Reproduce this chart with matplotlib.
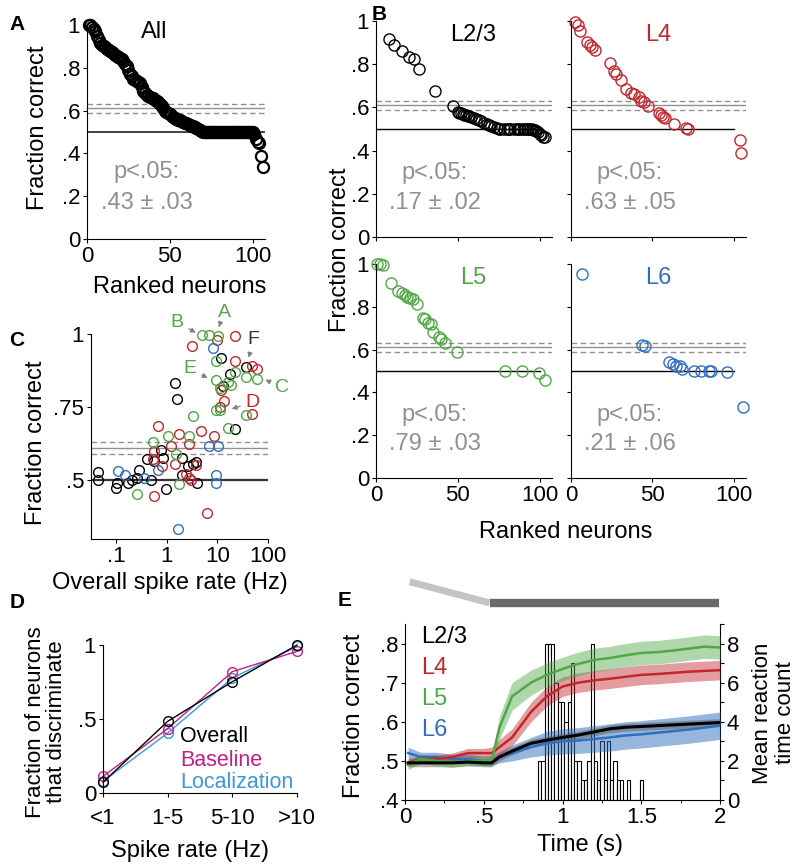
import numpy as np
import matplotlib
matplotlib.use("Agg")
import matplotlib.pyplot as plt

plt.rcParams['font.family'] = ['Liberation Sans', 'DejaVu Sans']

W, H = 797, 864
c23, c4, c5, c6 = 'black', '#c1272d', '#4fa845', '#2f6fbf'
gray = '#909090'

# ---- data ----
# A: all neurons, ranked
a_frac = ([1.0, 1.0, 0.99, 0.98, 0.97, 0.95, 0.93, 0.915, 0.905, 0.90, 0.895, 0.89,
           0.885, 0.88, 0.875, 0.868, 0.86, 0.855, 0.85, 0.845, 0.84, 0.83, 0.82, 0.81,
           0.79, 0.77, 0.76, 0.75, 0.745, 0.74, 0.735, 0.727, 0.71, 0.69, 0.68, 0.675,
           0.67, 0.665, 0.66, 0.657, 0.65, 0.645, 0.64, 0.63, 0.62, 0.61, 0.60, 0.595,
           0.59, 0.585, 0.578, 0.571, 0.567, 0.563, 0.558, 0.555, 0.552, 0.548, 0.544,
           0.54, 0.537, 0.533, 0.53, 0.526, 0.522, 0.518, 0.514, 0.51, 0.505, 0.502]
          + [0.5] * 30
          + [0.49, 0.465, 0.455, 0.45, 0.39, 0.335])

# B: per layer (rank in overall list, fraction correct)
b23_rank = [8, 11, 16, 20, 23, 26, 36, 47, 50, 51, 52, 53, 54, 55, 56, 57, 58,
            60, 61, 63, 64, 66, 68, 69, 70, 72, 74, 75, 76, 78, 80, 81, 82, 84, 86,
            87, 88, 90, 91, 92, 93, 94, 95, 96, 97, 98, 99, 100, 101, 102, 103]
b23_frac = [0.917, 0.889, 0.861, 0.835, 0.824, 0.776, 0.677, 0.606, 0.578, 0.575,
            0.572, 0.57, 0.567, 0.565, 0.562, 0.56, 0.556, 0.55, 0.547, 0.54, 0.537,
            0.53, 0.522, 0.518, 0.515, 0.508, 0.503, 0.5, 0.5, 0.5, 0.5, 0.5, 0.5,
            0.5, 0.5, 0.5, 0.5, 0.5, 0.5, 0.5, 0.5, 0.5, 0.5, 0.497, 0.495, 0.49,
            0.485, 0.478, 0.47, 0.465, 0.465]
b4_rank = [2.5, 4.5, 5.5, 9.6, 11.6, 12.6, 14.6, 23.8, 26.2, 27.8, 30.9, 33.9, 37,
           39, 41.7, 43, 45, 47.2, 53.9, 55, 56.5, 57.5, 63.4, 70.5, 72, 104, 104.7]
b4_frac = [0.997, 0.98, 0.955, 0.904, 0.889, 0.881, 0.866, 0.807, 0.77, 0.755, 0.727,
           0.684, 0.665, 0.66, 0.65, 0.63, 0.625, 0.606, 0.573, 0.565, 0.556, 0.55,
           0.523, 0.503, 0.50, 0.449, 0.39]
b5_rank = [0.4, 2.4, 4.5, 8.9, 13.6, 15.7, 17.7, 18.7, 20.7, 22.4, 24.8, 28.5, 29.9,
           31.9, 33.3, 34.9, 38.6, 40, 42, 49.2, 79, 89.2, 99.4, 103.3]
b5_frac = [1.0, 1.0, 0.995, 0.91, 0.876, 0.863, 0.855, 0.848, 0.84, 0.835, 0.812,
           0.747, 0.742, 0.726, 0.72, 0.684, 0.658, 0.648, 0.63, 0.59, 0.502, 0.502,
           0.49, 0.456]
b6_rank = [6.9, 43.9, 45.3, 60.1, 62.5, 64.5, 67, 68.2, 75.7, 79.8, 84.5, 85.9, 95.6, 105.7]
b6_frac = [0.953, 0.622, 0.617, 0.54, 0.533, 0.524, 0.524, 0.509, 0.502, 0.502,
           0.502, 0.502, 0.495, 0.334]
p_text = ['.43 ± .03', '.17 ± .02', '.63 ± .05', '.79 ± .03', '.21 ± .06']

# C: spike rate vs fraction correct
c23_rate = [0.044, 0.045, 0.10, 0.106, 0.17, 0.204, 0.255, 0.288, 0.40, 0.48, 0.57,
            0.76, 0.85, 0.95, 1.45, 1.57, 2.05, 1.96, 2.65, 3.3, 3.8, 3.9, 12, 12.8,
            17.6, 22, 37.6]
c23_frac = [0.528, 0.50, 0.475, 0.49, 0.49, 0.50, 0.507, 0.535, 0.572, 0.503, 0.568,
            0.603, 0.577, 0.47, 0.833, 0.778, 0.575, 0.52, 0.549, 0.555, 0.562, 0.49,
            0.918, 0.824, 0.865, 0.674, 0.887]
c4_rate = [22, 9.9, 3.2, 22, 49, 61, 12, 13.5, 11.5, 48, 0.68, 1.74, 4.7, 8.7, 2.8,
           1.23, 0.56, 0.54, 1.45, 3.8, 2.4, 2.75, 3.0, 0.57, 6.3, 0.82]
c4_frac = [0.994, 0.98, 0.958, 0.907, 0.892, 0.88, 0.81, 0.77, 0.751, 0.728, 0.685,
           0.657, 0.67, 0.651, 0.625, 0.617, 0.602, 0.572, 0.555, 0.551, 0.523, 0.507,
           0.503, 0.447, 0.388, 0.549]
c5_rate = [4.9, 6.8, 10.4, 9.6, 9.3, 11.2, 15.9, 18.4, 22, 36.3, 61, 9.3, 11.2, 3.3,
           15.9, 36, 0.54, 1.07, 1.5, 2.8, 1.74, 0.26]
c5_frac = [0.998, 0.998, 0.994, 0.909, 0.842, 0.816, 0.835, 0.827, 0.87, 0.853, 0.848,
           0.742, 0.74, 0.719, 0.68, 0.722, 0.631, 0.653, 0.589, 0.651, 0.489, 0.455]
c6_rate = [8.3, 6.9, 10.4, 9.6, 9.3, 0.11, 0.15, 0.35, 0.68, 1.7]
c6_frac = [0.952, 0.619, 0.617, 0.518, 0.492, 0.532, 0.52, 0.507, 0.535, 0.333]

# D
d_bins = ['<1', '1-5', '5-10', '>10']
d_overall = [0.072, 0.484, 0.752, 1.0]
d_baseline = [0.113, 0.435, 0.82, 0.957]
d_local = [0.079, 0.405, 0.777, 0.99]

# E
e_t = [0.02, 0.1, 0.2, 0.3, 0.4, 0.5, 0.55, 0.6, 0.68, 0.8, 0.9, 1.0, 1.1, 1.2,
       1.3, 1.4, 1.5, 1.6, 1.7, 1.8, 1.9, 2.0]
e23 = [0.495, 0.495, 0.495, 0.495, 0.497, 0.495, 0.495, 0.51, 0.525, 0.545, 0.553,
       0.56, 0.566, 0.574, 0.582, 0.586, 0.588, 0.59, 0.592, 0.594, 0.596, 0.598]
e4 = [0.495, 0.505, 0.505, 0.51, 0.52, 0.52, 0.52, 0.535, 0.56, 0.625, 0.665, 0.69,
      0.70, 0.706, 0.71, 0.715, 0.72, 0.722, 0.725, 0.728, 0.73, 0.732]
e5 = [0.49, 0.505, 0.50, 0.495, 0.50, 0.50, 0.50, 0.585, 0.665, 0.70, 0.72, 0.735,
      0.748, 0.758, 0.763, 0.77, 0.776, 0.778, 0.782, 0.787, 0.792, 0.79]
e6 = [0.52, 0.51, 0.51, 0.505, 0.505, 0.50, 0.50, 0.51, 0.52, 0.535, 0.545, 0.55,
      0.552, 0.556, 0.56, 0.565, 0.568, 0.572, 0.576, 0.58, 0.585, 0.59]
e23_sem = [0.01] * 22
e4_sem = [0.01, 0.01, 0.01, 0.01, 0.012, 0.012, 0.015, 0.02, 0.022, 0.025, 0.025,
          0.025, 0.025, 0.025, 0.025, 0.025, 0.025, 0.025, 0.025, 0.025, 0.025, 0.025]
e5_sem = [0.012, 0.012, 0.012, 0.012, 0.012, 0.012, 0.015, 0.03, 0.035, 0.032, 0.03,
          0.03, 0.03, 0.03, 0.03, 0.03, 0.03, 0.03, 0.03, 0.03, 0.03, 0.03]
e6_sem = [0.015, 0.012, 0.012, 0.012, 0.012, 0.012, 0.012, 0.015, 0.02, 0.025, 0.03,
          0.032, 0.033, 0.034, 0.035, 0.035, 0.035, 0.035, 0.035, 0.035, 0.035, 0.035]
rt_start, rt_width = 0.845, 0.0208
rt_counts = [2, 2, 8, 8, 8, 6, 5, 5, 4, 5, 7, 2, 2, 1, 1, 2, 8, 2, 1, 3, 1, 3, 1, 2,
             1, 1, 0, 1, 0, 0, 0, 1]

fig = plt.figure(figsize=(W / 100, H / 100), dpi=100)
TICK = 16
LAB = 17


def px_axes(l, t, r, b):
    return fig.add_axes([l / W, 1 - b / H, (r - l) / W, (b - t) / H])


def style(ax, fs=TICK):
    for s in ['top', 'right']:
        ax.spines[s].set_visible(False)
    ax.tick_params(direction='out', length=3, width=0.8, labelsize=fs, pad=2)


def chance(ax, x1, x2, col='black', lw=1.0):
    ax.plot([0, x2], [0.61, 0.61], color=gray, lw=1.0)
    ax.plot([0, x2], [0.59, 0.59], color=gray, lw=1.0, ls=(0, (4, 2.5)))
    ax.plot([0, x2], [0.63, 0.63], color=gray, lw=1.0, ls=(0, (4, 2.5)))
    ax.plot([0, x1], [0.5, 0.5], color=col, lw=lw)


yt = [0, 0.2, 0.4, 0.6, 0.8, 1]
ytl = ['0', '.2', '.4', '.6', '.8', '1']

# ---- A ----
ax = px_axes(87, 25, 265, 239)
style(ax)
chance(ax, 107.5, 107.5, col='#333333', lw=1.3)
ax.plot(np.arange(1, len(a_frac) + 1), a_frac, 'o', mfc='none', mec='black',
        ms=8, mew=1.6, clip_on=False)
ax.set_xlim(0, 107.5)
ax.set_ylim(0, 1)
ax.set_xticks([0, 50, 100])
ax.set_yticks(yt)
ax.set_yticklabels(ytl)
ax.text(36, 0.313, 'p<.05:', color=gray, fontsize=17, ha='center', va='center')
ax.text(36, 0.168, p_text[0], color=gray, fontsize=17, ha='center', va='center')
ax.text(0.38, 0.965, 'All', transform=ax.transAxes, fontsize=17, ha='center', va='center')

# ---- B ----
b_pos = [(376, 21, 552, 237), (571, 21, 746, 237), (376, 264, 552, 478), (571, 264, 746, 478)]
b_data = [(b23_rank, b23_frac, c23, 'L2/3'), (b4_rank, b4_frac, c4, 'L4'),
          (b5_rank, b5_frac, c5, 'L5'), (b6_rank, b6_frac, c6, 'L6')]
for i, (pos, (rk, fr, col, name)) in enumerate(zip(b_pos, b_data)):
    ax = px_axes(*pos)
    style(ax)
    chance(ax, 100, 107.5)
    ax.plot(rk, fr, 'o', mfc='none', mec=col, ms=8, mew=1.0, clip_on=False)
    ax.set_xlim(0, 107.5)
    ax.set_ylim(0, 1)
    ax.set_xticks([0, 50, 100])
    ax.set_yticks(yt)
    ax.set_yticklabels(ytl)
    if i < 2:
        ax.set_xticklabels([])
    if i % 2 == 1:
        ax.set_yticklabels([])
    ax.text(0.55 if i % 2 == 0 else 0.5, 0.935, name, color=col, transform=ax.transAxes,
            fontsize=17, ha='center', va='center')
    ax.text(36, 0.296, 'p<.05:', color=gray, fontsize=17, ha='center', va='center')
    ax.text(36, 0.157, p_text[i + 1], color=gray, fontsize=17, ha='center', va='center')

# ---- C ----
ax = px_axes(91, 334, 268, 539)
style(ax)
ax.set_xscale('log')
ax.set_xlim(0.032, 100)
ax.set_ylim(0.3, 1.0)
for yv, ls in [(0.61, '-'), (0.59, (0, (4, 2.5))), (0.63, (0, (4, 2.5)))]:
    ax.axhline(yv, color=gray, lw=1.0, ls=ls)
ax.axhline(0.5, color='#333333', lw=1.6)
for r, f, col in [(c23_rate, c23_frac, c23), (c4_rate, c4_frac, c4),
                  (c5_rate, c5_frac, c5), (c6_rate, c6_frac, c6)]:
    ax.plot(r, f, 'o', mfc='none', mec=col, ms=7, mew=1.0, clip_on=False)
ax.set_xticks([0.1, 1, 10, 100])
ax.set_xticklabels(['.1', '1', '10', '100'])
ax.set_yticks([0.5, 0.75, 1])
ax.set_yticklabels(['.5', '.75', '1'])
ax.tick_params(which='minor', length=2, width=0.6)
arrow = dict(arrowstyle='-|>', color='#808080', lw=0.9, mutation_scale=7)
for lab, col, xy, xytext in [('A', c5, (10.3, 1.015), (13.5, 1.075)),
                             ('B', c5, (4.2, 1.0), (1.6, 1.04)),
                             ('F', '#333333', (40, 0.91), (52, 0.98)),
                             ('E', c5, (7.2, 0.845), (2.9, 0.882)),
                             ('C', c5, (79, 0.848), (190, 0.817)),
                             ('D', c4, (17, 0.742), (50, 0.766))]:
    ax.annotate(lab, xy=xy, xytext=xytext, color=col, fontsize=14, ha='center',
                va='center', arrowprops=arrow, annotation_clip=False)

# ---- D ----
ax = px_axes(103, 645, 297, 793)
style(ax)
xd = np.arange(len(d_bins))
ax.plot(xd, d_local, '-o', color='#3b9ad9', mfc='none', ms=7, lw=1.0, clip_on=False)
ax.plot(xd, d_baseline, '-o', color='#c81e82', mfc='none', ms=7, lw=1.0, clip_on=False)
ax.plot(xd, d_overall, '-o', color='black', mfc='none', ms=7, lw=1.0, clip_on=False)
ax.set_xlim(0, 3)
ax.set_ylim(0, 1)
ax.set_xticks(xd)
ax.set_xticklabels(d_bins)
ax.tick_params(axis='x', pad=8)
ax.set_yticks([0, 0.5, 1])
ax.set_yticklabels(['0', '.5', '1'])
fig.text(180 / W, 1 - 737 / H, 'Overall', color='black', fontsize=15.5, va='center')
fig.text(180 / W, 1 - 760 / H, 'Baseline', color='#c81e82', fontsize=15.5, va='center')
fig.text(180 / W, 1 - 782 / H, 'Localization', color='#3b9ad9', fontsize=15.5, va='center')

# ---- E ----
ax2 = px_axes(405, 624, 720, 800)
ax = fig.add_axes(ax2.get_position())
ax.set_zorder(ax2.get_zorder() + 1)
ax.patch.set_visible(False)
edges = rt_start + rt_width * np.arange(len(rt_counts))
ax2.bar(edges, rt_counts, width=rt_width, align='edge', color='white',
        edgecolor='black', lw=0.8)
ax2.set_ylim(0, 9)
ax2.set_xlim(0, 2)
ax2.yaxis.tick_right()
ax2.set_yticks([0, 2, 4, 6, 8])
ax2.set_yticks([1, 3, 5, 7, 9], minor=True)
ax2.set_xticks([])
for s in ['top', 'left', 'bottom']:
    ax2.spines[s].set_visible(False)
ax2.tick_params(axis='y', which='both', direction='out', length=3, width=0.8,
                labelsize=TICK, pad=2)

style(ax)
for y, s, col, a in [(e6, e6_sem, c6, 0.5), (e23, e23_sem, '#555555', 0.45),
                     (e4, e4_sem, c4, 0.45), (e5, e5_sem, c5, 0.45)]:
    y, s = np.array(y), np.array(s)
    ax.fill_between(e_t, y - s, y + s, color=col, alpha=a, lw=0)
for y, col, lw in [(e6, c6, 1.8), (e4, c4, 1.8), (e5, c5, 1.8), (e23, 'black', 2.2)]:
    ax.plot(e_t, y, color=col, lw=lw)
ax.set_xlim(0, 2)
ax.set_ylim(0.4, 0.85)
ax.set_xticks([0, 0.5, 1, 1.5, 2])
ax.set_xticklabels(['0', '.5', '1', '1.5', '2'])
ax.set_xticks([0.25, 0.75, 1.25, 1.75], minor=True)
ax.set_yticks([0.4, 0.5, 0.6, 0.7, 0.8])
ax.set_yticklabels(['.4', '.5', '.6', '.7', '.8'])
ax.tick_params(which='minor', direction='out', length=2, width=0.6)
ax.spines['right'].set_visible(False)
# stimulus bar above E
ax.plot([0.03, 0.537], [0.958, 0.904], color='#c4c4c4', lw=5, solid_capstyle='butt', clip_on=False)
ax.plot([0.537, 1.994], [0.904, 0.904], color='#6a6a6a', lw=6, solid_capstyle='butt', clip_on=False)
for k, (name, col) in enumerate([('L2/3', 'black'), ('L4', c4), ('L5', c5), ('L6', c6)]):
    fig.text(421 / W, 1 - (637 + 31 * k) / H, name, color=col, fontsize=17, va='center')

# ---- labels ----
fig.text(38 / W, 1 - 128 / H, 'Fraction correct', rotation=90, fontsize=LAB, ha='center', va='center')
fig.text(180 / W, 1 - 287 / H, 'Ranked neurons', fontsize=LAB, ha='center', va='center')
fig.text(340 / W, 1 - 250 / H, 'Fraction correct', rotation=90, fontsize=LAB, ha='center', va='center')
fig.text(566 / W, 1 - 532 / H, 'Ranked neurons', fontsize=LAB, ha='center', va='center')
fig.text(36 / W, 1 - 443 / H, 'Fraction correct', rotation=90, fontsize=LAB, ha='center', va='center')
fig.text(170 / W, 1 - 583 / H, 'Overall spike rate (Hz)', fontsize=LAB, ha='center', va='center')
fig.text(46 / W, 1 - 722 / H, 'Fraction of neurons\nthat discriminate', rotation=90,
         fontsize=16, ha='center', va='center', linespacing=1.0)
fig.text(190 / W, 1 - 851 / H, 'Spike rate (Hz)', fontsize=LAB, ha='center', va='center')
fig.text(354 / W, 1 - 716 / H, 'Fraction correct', rotation=90, fontsize=LAB, ha='center', va='center')
fig.text(580 / W, 1 - 845 / H, 'Time (s)', fontsize=LAB, ha='center', va='center')
fig.text(774 / W, 1 - 713 / H, 'Mean reaction\ntime count', rotation=90, fontsize=16,
         ha='center', va='center', linespacing=1.15)

for lab, x, y in [('A', 17, 25), ('B', 379, 14), ('C', 17, 340), ('D', 17, 603), ('E', 345, 601)]:
    fig.text(x / W, 1 - y / H, lab, fontsize=15, fontweight='bold', ha='center', va='center')

fig.savefig('out.png', dpi=100)
